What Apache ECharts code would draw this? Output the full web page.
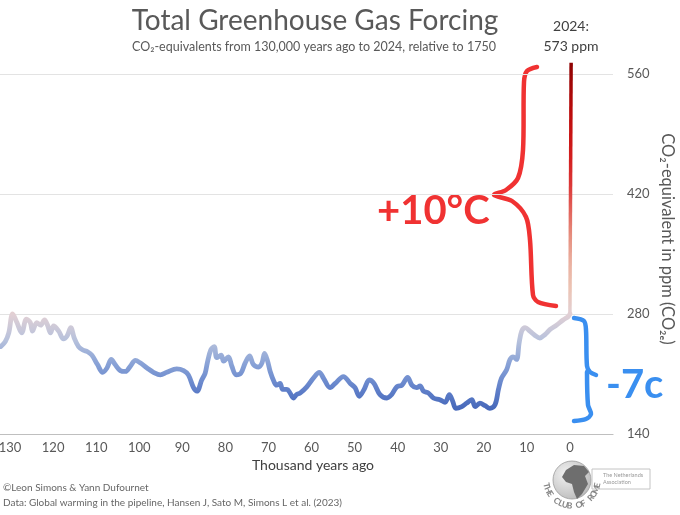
<!DOCTYPE html>
<html>
<head>
<meta charset="utf-8">
<script src="https://cdn.jsdelivr.net/npm/echarts@6/dist/echarts.min.js"></script>
<style>
  html, body { margin: 0; background: #fff; }
  #chart { width: 680px; height: 515px; }
</style>
</head>
<body>
<div id="chart"></div>
<script>
// Paleo record: thousand years ago vs CO2-eq ppm
const kyrAgo = [
  132.2, 131.1, 130.3, 129.4, 128.4, 127.3, 126.2, 125.3, 124.8, 123.8, 122.9, 122.0, 121.3, 120.6,
  119.9, 118.7, 117.6, 116.8, 115.9, 115.1, 114.1, 113.1, 112.0, 111.0, 109.7, 108.5, 107.5, 106.5,
  105.6, 104.4, 103.2, 102.1, 100.9, 99.8, 98.2, 96.7, 95.1, 93.6, 91.3, 89.7, 88.6, 87.4, 86.6,
  85.5, 84.7, 84.2, 83.4, 82.6, 82.0, 81.0, 80.4, 79.3, 78.5, 77.5, 76.4, 75.4, 74.4, 73.5, 72.3,
  71.5, 70.9, 70.2, 69.6, 68.7, 68.1, 67.3, 66.7, 65.7, 65.0, 64.2, 63.5, 62.6, 61.1, 59.6, 58.2,
  57.2, 55.7, 54.5, 52.6, 51.0, 49.9, 48.9, 47.8, 46.6, 45.5, 44.1, 42.5, 41.4, 40.2, 39.0, 37.7,
  36.7, 35.6, 34.8, 34.0, 32.9, 31.7, 30.2, 29.0, 28.0, 27.2, 26.5, 25.1, 24.0, 22.8, 22.0, 20.9,
  19.7, 18.6, 17.4, 16.6, 15.9, 14.7, 13.9, 13.2, 12.4, 11.8, 11.2, 10.4, 9.3, 8.1, 7.0, 5.8, 4.6,
  3.1, 1.6, 0.4, 0
];
const ppm = [
  242, 248, 258, 280, 270, 258, 274, 270, 260, 270, 267, 273, 267, 258,
  266, 260, 251, 254, 264, 252, 242, 238, 236, 232, 221, 212, 217, 227,
  221, 214, 213, 219, 226, 223, 217, 212, 209, 212, 216, 214, 209, 194, 190,
  203, 211, 223, 238, 242, 229, 232, 225, 230, 219, 209, 211, 223, 231, 221, 218,
  223, 234, 225, 213, 201, 197, 199, 192, 192, 188, 182, 186, 188, 195, 205, 212,
  205, 194, 199, 207, 199, 194, 184, 192, 203, 199, 186, 182, 186, 195, 197, 206,
  197, 194, 196, 190, 188, 182, 180, 177, 186, 178, 170, 172, 176, 180, 172, 176,
  173, 170, 174, 192, 205, 215, 227, 230, 227, 246, 260, 264, 260, 255, 252, 256, 262,
  267, 273, 277, 280
];
// 1750 -> 2024 jump
const nowKyr = [0, -0.274];
const nowPpm = [280, 573];

const xTickLabels = [130, 120, 110, 100, 90, 80, 70, 60, 50, 40, 30, 20, 10, 0];
const yTickLabels = [140, 280, 420, 560];

const FONT = 'Lato, "Open Sans", sans-serif';
const GREY = '#595959';

// colour ramp for the value dimension, 160..580 in 30 ppm steps
const ramp = ['#3d5fb4', '#5e7ec8', '#86a0d6', '#b8c2dc', '#e2d0d4', '#ecc4b4', '#eab0a0',
  '#e69080', '#e2645c', '#dc3838', '#d42020', '#c81414', '#b80a0a', '#a00606', '#880000'];

// little seal text around the globe
const seal = 'THE CLUB OF ROME'.split('');
const sealLetters = seal.map((ch, i) => {
  const deg = 168 - i * (156 / (seal.length - 1));
  const a = deg * Math.PI / 180;
  return {
    type: 'text', x: 572 + 26 * Math.cos(a), y: 480 + 26 * Math.sin(a),
    rotation: (90 - deg) * Math.PI / 180,
    style: { text: ch, font: `bold 8.5px ${FONT}`, fill: '#858585', align: 'center', verticalAlign: 'middle' }
  };
});

const penRed = { stroke: '#f03232', lineWidth: 4.5, fill: null, lineCap: 'round', lineJoin: 'round' };
const penBlue = { stroke: '#3a8ff0', lineWidth: 4.5, fill: null, lineCap: 'round', lineJoin: 'round' };

const chart = echarts.init(document.getElementById('chart'), null, { renderer: 'canvas' });
chart.setOption({
  backgroundColor: '#fff',
  animation: false,
  grid: { left: -33, right: 67, top: 74, bottom: 81, outerBoundsMode: 'none', containLabel: false },
  xAxis: {
    type: 'value',
    inverse: true,
    min: -10, max: 140, interval: 10,
    axisLine: { lineStyle: { color: '#bfbfbf', width: 1.2 } },
    axisTick: { show: false },
    splitLine: { show: false },
    axisLabel: {
      color: GREY, fontSize: 13, fontFamily: FONT, margin: 7,
      formatter: v => xTickLabels.includes(v) ? String(v) : ''
    }
  },
  yAxis: {
    type: 'value',
    position: 'right',
    min: 140, max: 560, interval: 140,
    axisLine: { show: false },
    axisTick: { show: false },
    splitLine: { lineStyle: { color: '#e3e3e3', width: 1 } },
    axisLabel: {
      color: GREY, fontSize: 13, fontFamily: FONT, margin: 14,
      formatter: v => yTickLabels.includes(v) ? String(v) : ''
    }
  },
  visualMap: {
    type: 'continuous', show: false, dimension: 1, seriesIndex: [0, 1],
    min: 160, max: 580, inRange: { color: ramp }
  },
  series: [
    {
      type: 'line',
      data: kyrAgo.map((k, i) => [k, ppm[i]]),
      smooth: 0.35,
      showSymbol: false,
      clip: false,
      lineStyle: { width: 4.8, cap: 'round', join: 'round' }
    },
    {
      type: 'line',
      data: nowKyr.map((k, i) => [k, nowPpm[i]]),
      showSymbol: false,
      clip: false,
      lineStyle: { width: 3.5 }
    }
  ],
  graphic: [
    { type: 'text', x: 315, y: 21, style: { text: 'Total Greenhouse Gas Forcing', font: `28px ${FONT}`, fill: GREY, align: 'center', verticalAlign: 'middle' } },
    { type: 'text', x: 314, y: 47, style: { text: 'CO₂-equivalents from 130,000 years ago to 2024, relative to 1750', font: `12.5px ${FONT}`, fill: GREY, align: 'center', verticalAlign: 'middle' } },
    { type: 'text', x: 571, y: 26, style: { text: '2024:', font: `14px ${FONT}`, fill: '#404040', align: 'center', verticalAlign: 'middle' } },
    { type: 'text', x: 571, y: 46, style: { text: '573 ppm', font: `14px ${FONT}`, fill: '#404040', align: 'center', verticalAlign: 'middle' } },
    { type: 'text', x: 313, y: 465, style: { text: 'Thousand years ago', font: `14px ${FONT}`, fill: '#404040', align: 'center', verticalAlign: 'middle' } },
    { type: 'text', x: 667, y: 239, rotation: -Math.PI / 2, style: { text: 'CO₂-equivalent in ppm (CO₂ₑ)', font: `16.5px ${FONT}`, fill: GREY, align: 'center', verticalAlign: 'middle' } },
    { type: 'text', x: 3, y: 488, style: { text: '©Leon Simons & Yann Dufournet', font: `10px ${FONT}`, fill: '#666', verticalAlign: 'middle' } },
    { type: 'text', x: 3, y: 503, style: { text: 'Data: Global warming in the pipeline, Hansen J, Sato M, Simons L et al. (2023)', font: `10px ${FONT}`, fill: '#666', verticalAlign: 'middle' } },

    // hand-drawn notes
    { type: 'polyline', shape: { smooth: 0.3, points: [[537, 67], [527, 71], [524, 82], [523, 150], [518, 178], [506, 190], [494, 195], [512, 201], [526, 217], [530, 240], [533, 295], [538, 302], [556, 306]] }, style: penRed },
    { type: 'text', x: 377, y: 211, style: { text: '+10°C', font: `bold 40px ${FONT}`, fill: '#f03232', verticalAlign: 'middle' } },
    { type: 'polyline', shape: { smooth: 0.3, points: [[574, 318], [584, 321], [586, 330], [587, 366], [590, 372], [596, 375]] }, style: penBlue },
    { type: 'polyline', shape: { smooth: 0.3, points: [[587, 372], [588, 405], [591, 414], [586, 419], [574, 421]] }, style: penBlue },
    { type: 'text', x: 606, y: 385, style: { text: '-7c', font: `bold 40px ${FONT}`, fill: '#3a8ff0', verticalAlign: 'middle' } },

    // Club of Rome logo
    { type: 'circle', shape: { cx: 572, cy: 480, r: 19 },
      style: { fill: { type: 'radial', x: 0.35, y: 0.35, r: 0.8, colorStops: [{ offset: 0, color: '#f2f2f2' }, { offset: 1, color: '#b4b4b4' }] }, stroke: '#9a9a9a', lineWidth: 0.8 } },
    { type: 'polygon', shape: { points: [[566, 470], [574, 465], [584, 466], [589, 472], [585, 476], [588, 484], [582, 494], [577, 499], [574, 492], [572, 484], [566, 482], [562, 477]] },
      style: { fill: '#6e6e6e' } },
    ...sealLetters,
    { type: 'rect', shape: { x: 592, y: 469, width: 58, height: 20 }, style: { fill: null, stroke: '#c4c4c4', lineWidth: 1 } },
    { type: 'text', x: 603, y: 475, style: { text: 'The Netherlands', font: `5.5px ${FONT}`, fill: '#999', verticalAlign: 'middle' } },
    { type: 'text', x: 603, y: 482, style: { text: 'Association', font: `5.5px ${FONT}`, fill: '#999', verticalAlign: 'middle' } }
  ]
});
</script>
</body>
</html>
